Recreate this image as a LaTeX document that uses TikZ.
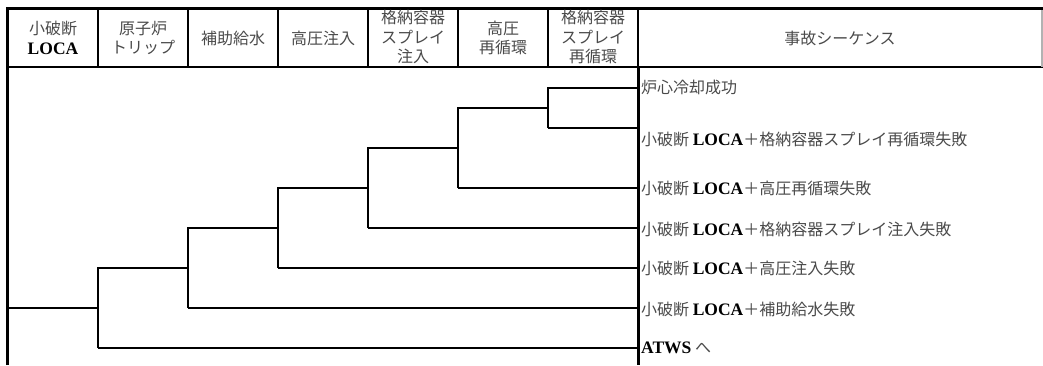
\documentclass[tikz,border=0pt]{standalone}
\usepackage{fontspec}
\setmainfont{Liberation Serif}
\newfontfamily\jpfont{Noto Sans CJK JP}
\newfontfamily\latinbf{Liberation Serif Bold}
\usetikzlibrary{positioning}

\definecolor{jpgray}{HTML}{4A4A4A}
\newcommand{\latin}[1]{{\latinbf\fontsize{17.5}{20}\selectfont\color{black}#1}}
\newcommand{\sbloca}[1]{小破断 \latin{LOCA}＋#1}

\tikzset{
  hdr/.style={align=center, inner sep=0pt, text=jpgray,
    font=\jpfont\fontsize{16}{19.5}\selectfont},
  outc/.style={anchor=west, inner sep=0pt, text=jpgray,
    font=\jpfont\fontsize{16}{18}\selectfont},
  treeline/.style={line width=1.6pt, black},
  outerline/.style={line width=3.5pt, black},
  cellline/.style={line width=1.2pt, black},
}

\begin{document}
\begin{tikzpicture}[x=1pt, y=-1pt]
  \useasboundingbox (0,0) rectangle (1043,365);

  % Header of the table
  \draw[cellline] (8,67) -- (1043,67);
  \foreach \x in {98,188,278,368,458,548,638}
    \draw[cellline] (\x,10) -- (\x,67);
  \draw[cellline, gray!60] (1042,10) -- (1042,67);
  \draw[outerline] (7.5,365) -- (7.5,8.5) -- (1043,8.5); % outer frame
  \draw[line width=3pt] (638,67) -- (638,365); % end of the tree

  \node[hdr] (ie)   at (53,38)  {小破断\\\latin{LOCA}};
  \node[hdr] (trip) at (143,38) {原子炉\\トリップ};
  \node[hdr] (afwh) at (233,38) {補助給水};
  \node[hdr] (hpih) at (323,38) {高圧注入};
  \node[hdr] (csih) at (413,37) {格納容器\\スプレイ\\注入};
  \node[hdr] (hprh) at (503,38) {高圧\\再循環};
  \node[hdr] (csrh) at (593,37) {格納容器\\スプレイ\\再循環};
  \node[hdr] (seqh) at (840,38) {事故シーケンス};

  % Accident sequences
  \node[outc] (ok)   at (641,87)  {炉心冷却成功};
  \node[outc] (csr)  at (641,139) {\sbloca{格納容器スプレイ再循環失敗}};
  \node[outc] (hpr)  at (641,188) {\sbloca{高圧再循環失敗}};
  \node[outc] (csi)  at (641,229) {\sbloca{格納容器スプレイ注入失敗}};
  \node[outc] (hpi)  at (641,268) {\sbloca{高圧注入失敗}};
  \node[outc] (afw)  at (641,309) {\sbloca{補助給水失敗}};
  \node[outc] (atws) at (641,348) {\latin{ATWS} へ};

  % Branch points of the tree
  \coordinate (start) at (8,308);
  \coordinate (end) at (638,0);
  \coordinate (tripup) at (98,268);   \coordinate (tripdn) at (98,348);
  \coordinate (afwup)  at (188,228);  \coordinate (afwdn)  at (188,308);
  \coordinate (hpiup)  at (278,188);  \coordinate (hpidn)  at (278,268);
  \coordinate (csiup)  at (368,148);  \coordinate (csidn)  at (368,228);
  \coordinate (hprup)  at (458,108);  \coordinate (hprdn)  at (458,188);
  \coordinate (csrup)  at (548,88);   \coordinate (csrdn)  at (548,128);

  % Draw the tree
  \draw[treeline] (start) -- (tripup |- start);
  \draw[treeline] (tripdn) -- (tripup) -- (afwup |- tripup); % reactor trip
  \draw[treeline] (tripdn) -- (end |- tripdn);
  \draw[treeline] (afwdn) -- (afwup) -- (hpiup |- afwup); % auxiliary feedwater
  \draw[treeline] (afwdn) -- (end |- afwdn);
  \draw[treeline] (hpidn) -- (hpiup) -- (csiup |- hpiup); % high pressure injection
  \draw[treeline] (hpidn) -- (end |- hpidn);
  \draw[treeline] (csidn) -- (csiup) -- (hprup |- csiup); % spray injection
  \draw[treeline] (csidn) -- (end |- csidn);
  \draw[treeline] (hprdn) -- (hprup) -- (csrup |- hprup); % high pressure recirculation
  \draw[treeline] (hprdn) -- (end |- hprdn);
  \draw[treeline] (csrdn) -- (csrup) -- (end |- csrup); % spray recirculation
  \draw[treeline] (csrdn) -- (end |- csrdn);

\end{tikzpicture}
\end{document}
